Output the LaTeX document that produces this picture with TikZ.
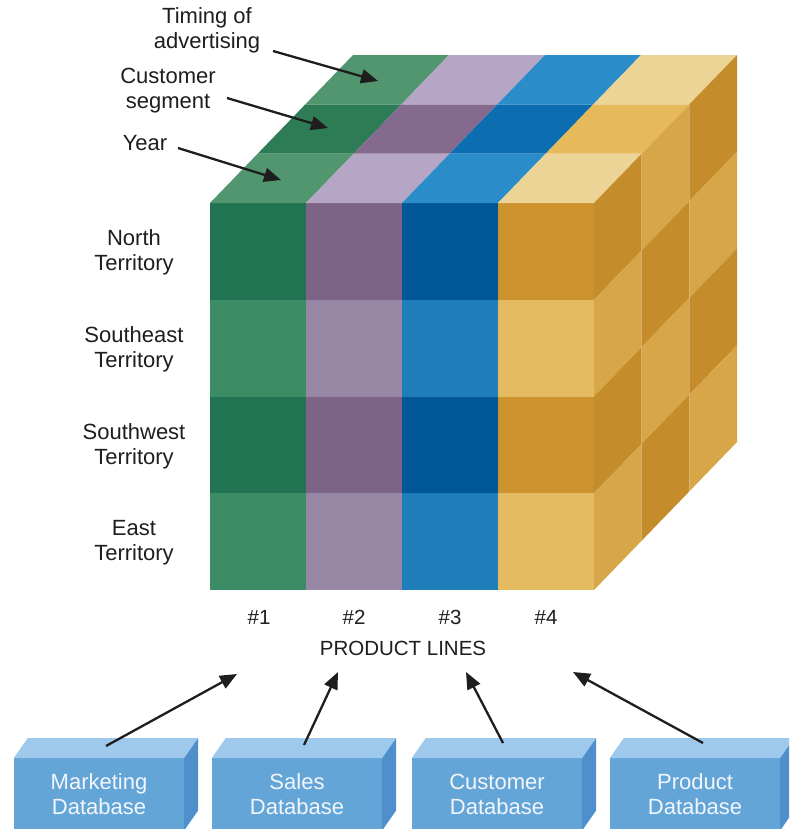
\documentclass[tikz,border=0pt]{standalone}
\usepackage{fontspec}
\setmainfont{Liberation Sans}
\usetikzlibrary{arrows.meta}
% front face colours
\definecolor{gD}{RGB}{33,116,82}
\definecolor{gL}{RGB}{60,141,101}
\definecolor{pD}{RGB}{124,100,134}
\definecolor{pL}{RGB}{152,134,165}
\definecolor{bD}{RGB}{0,86,150}
\definecolor{bL}{RGB}{30,126,186}
\definecolor{yD}{RGB}{203,146,45}
\definecolor{yL}{RGB}{229,187,97}
% top face colours
\definecolor{gT}{RGB}{82,150,112}
\definecolor{gM}{RGB}{46,124,86}
\definecolor{pT}{RGB}{180,166,196}
\definecolor{pM}{RGB}{131,106,142}
\definecolor{bT}{RGB}{42,140,200}
\definecolor{bM}{RGB}{12,110,176}
\definecolor{yT}{RGB}{236,211,150}
\definecolor{yM}{RGB}{230,185,90}
% right face colours
\definecolor{r0}{RGB}{196,140,42}
\definecolor{r1}{RGB}{215,166,72}
% database boxes
\definecolor{dbF}{RGB}{100,165,215}
\definecolor{dbTop}{RGB}{158,201,236}
\definecolor{dbSide}{RGB}{78,143,204}
\definecolor{dbT}{RGB}{242,246,252}
\definecolor{txt}{RGB}{30,30,30}
\begin{document}
\begin{tikzpicture}[x=1pt,y=-1pt,
  lbl/.style={font=\fontsize{22}{25}\selectfont, align=center, text=txt, inner sep=0pt},
  small/.style={font=\fontsize{20.5}{24}\selectfont, text=txt, inner sep=0pt},
  arr/.style={-{Triangle[length=17pt,width=14pt]}, line width=2.3pt, draw=txt},
  dbfront/.style={fill=dbF, text=dbT, minimum width=170pt, minimum height=72pt,
    anchor=north, inner sep=0pt, align=center, font=\fontsize{22}{25}\selectfont}]
\useasboundingbox (0,0) rectangle (789,829);
\clip (0,0) rectangle (789,829);
\fill[white] (0,0) rectangle (789,829);

% ---- cube: front and top faces
\foreach \c/\k in {0/g,1/p,2/b,3/y}{
  \foreach \r/\s in {0/D,1/L,2/D,3/L}{
    \fill[fill=\k\s] ({210+96*\c},{203+96.75*\r}) rectangle ({210+96*(\c+1)},{203+96.75*(\r+1)});
  }
  \foreach \d/\s in {0/T,1/M,2/T}{
    \fill[fill=\k\s] ({210+96*\c+47.67*\d},{203-49.33*\d})
      -- ({210+96*(\c+1)+47.67*\d},{203-49.33*\d})
      -- ({210+96*(\c+1)+47.67*(\d+1)},{203-49.33*(\d+1)})
      -- ({210+96*\c+47.67*(\d+1)},{203-49.33*(\d+1)}) -- cycle;
  }
}
% ---- cube: right face
\foreach \d in {0,1,2}{
  \foreach \r in {0,1,2,3}{
    \pgfmathtruncatemacro\q{mod(\d+\r,2)}
    \fill[fill=r\q] ({594+47.67*\d},{203+96.75*\r-49.33*\d})
      -- ({594+47.67*(\d+1)},{203+96.75*\r-49.33*(\d+1)})
      -- ({594+47.67*(\d+1)},{203+96.75*(\r+1)-49.33*(\d+1)})
      -- ({594+47.67*\d},{203+96.75*(\r+1)-49.33*\d}) -- cycle;
  }
}

% ---- top labels and arrows
\node[lbl] (tim) at (207,30) {Timing of\\advertising};
\node[lbl] (seg) at (168,91) {Customer\\segment};
\node[lbl] (yr) at (145,143) {Year};
\coordinate (timA) at (273,51);
\coordinate (timT) at (378,81);
\coordinate (segA) at (227,98);
\coordinate (segT) at (328,128);
\coordinate (yrA) at (178,148);
\coordinate (yrT) at (281,180);
\draw[arr] (timA) -- (timT);
\draw[arr] (segA) -- (segT);
\draw[arr] (yrA) -- (yrT);

% ---- row labels
\node[lbl] (north) at (134,252) {North\\Territory};
\node[lbl] (southeast) at (134,349) {Southeast\\Territory};
\node[lbl] (southwest) at (134,446) {Southwest\\Territory};
\node[lbl] (east) at (134,543) {East\\Territory};

% ---- column labels
\node[small] (n1) at (259,617) {\#1};
\node[small] (n2) at (354,617) {\#2};
\node[small] (n3) at (450,617) {\#3};
\node[small] (n4) at (546,617) {\#4};
\node[small] (pl) at (403,648) {PRODUCT LINES};

% ---- database boxes
\foreach \n/\x/\t in {mkt/99/Marketing, sal/297/Sales, cus/497/Customer, pro/695/Product}{
  \node[dbfront] (\n) at (\x,758) {\t\\Database};
  \fill[dbTop] (\n.north west) -- (\n.north east) -- ([shift={(14,-20)}]\n.north east)
     -- ([shift={(14,-20)}]\n.north west) -- cycle;
  \fill[dbSide] (\n.north east) -- ([shift={(14,-20)}]\n.north east)
     -- ([shift={(14,-20)}]\n.south east) -- (\n.south east) -- cycle;
}

% ---- arrows from databases
\coordinate (mktA) at (106,746);
\coordinate (mktT) at (237,674);
\coordinate (salA) at (304,745);
\coordinate (salT) at (338,672);
\coordinate (cusA) at (503,743);
\coordinate (cusT) at (466,672);
\coordinate (proA) at (703,743);
\coordinate (proT) at (573,672);
\draw[arr] (mktA) -- (mktT);
\draw[arr] (salA) -- (salT);
\draw[arr] (cusA) -- (cusT);
\draw[arr] (proA) -- (proT);
\end{tikzpicture}
\end{document}
